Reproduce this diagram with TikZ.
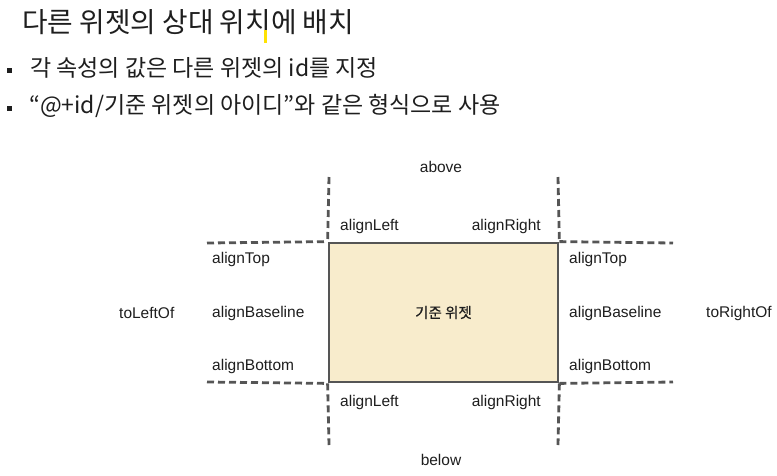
\documentclass[tikz,border=0pt]{standalone}
\usepackage{fontspec}
\setmainfont{Liberation Sans}
\newfontfamily\kr{Noto Sans CJK KR}
\newfontfamily\krm[FakeBold=0.6]{Noto Sans CJK KR}
\definecolor{boxfill}{RGB}{248,236,204}
\definecolor{linegray}{RGB}{85,85,85}
\definecolor{txt}{RGB}{30,30,30}
\begin{document}
\begin{tikzpicture}[x=1pt,y=-1pt,
  lbl/.style={font=\fontsize{15.5}{18}\selectfont, text=txt, inner sep=0pt},
  dline/.style={draw=linegray, line width=2.8pt, dash pattern=on 7pt off 4pt},
  refbox/.style={draw=linegray, line width=2.8pt, fill=boxfill, minimum width=229pt, minimum height=139pt, inner sep=0pt, font=\krm\fontsize{14.5}{17}\selectfont, text=txt},
  bul/.style={fill=txt, minimum size=5pt, inner sep=0pt},
  btxt/.style={anchor=west, inner sep=0pt, font=\kr\fontsize{23}{27}\selectfont, text=txt}]
\useasboundingbox (0,0) rectangle (777,475);
\fill[white] (0,0) rectangle (777,475);
% title and bullets
\node[anchor=west, inner sep=0pt, font=\kr\fontsize{27.8}{32}\selectfont, text=txt] (title) at (22,22) {다른 위젯의 상대 위치에 배치};
\fill[yellow!85!orange] (264,30) rectangle (266.5,43);
\node[bul] (b1) at (9,70) {};
\node[btxt] (t1) at (30,68) {각 속성의 값은 다른 위젯의 id를 지정};
\node[bul] (b2) at (9,108) {};
\node[btxt] (t2) at (29,106) {“@+id/기준 위젯의 아이디”와 같은 형식으로 사용};
% reference box
\node[refbox] (ref) at (443.5,312.5) {기준 위젯};
\coordinate (hl1) at (207,243);
\coordinate (hr1) at (673,243);
\coordinate (hl2) at (207,382);
\coordinate (hr2) at (673,382);
\coordinate (vt1) at (329,177);
\coordinate (vt2) at (558,177);
\coordinate (vb1) at (329,445);
\coordinate (vb2) at (558,445);
\draw[dline] (hl1) -- (ref.north west);
\draw[dline] (ref.north east) -- (hr1);
\draw[dline] (hl2) -- (ref.south west);
\draw[dline] (ref.south east) -- (hr2);
\draw[dline] (vt1) -- (ref.north west);
\draw[dline] (vt2) -- (ref.north east);
\draw[dline] (ref.south west) -- (vb1);
\draw[dline] (ref.south east) -- (vb2);
\node[refbox] at (ref) {기준 위젯};
% labels
\node[lbl] (above) at (441,167) {above};
\node[lbl] (below) at (441,460) {below};
\node[lbl, anchor=west] (tl) at (340,226) {alignLeft};
\node[lbl, anchor=east] (tr) at (541,226) {alignRight};
\node[lbl, anchor=west] (bl) at (340,402) {alignLeft};
\node[lbl, anchor=east] (br) at (541,402) {alignRight};
\node[lbl, anchor=west] (lt) at (212,259) {alignTop};
\node[lbl, anchor=west] (lb) at (212,313) {alignBaseline};
\node[lbl, anchor=west] (lbo) at (212,366) {alignBottom};
\node[lbl, anchor=west] (rt) at (569,259) {alignTop};
\node[lbl, anchor=west] (rb) at (569,313) {alignBaseline};
\node[lbl, anchor=west] (rbo) at (569,366) {alignBottom};
\node[lbl, anchor=west] (tlo) at (119,313) {toLeftOf};
\node[lbl, anchor=west] (tro) at (706,313) {toRightOf};
\end{tikzpicture}
\end{document}
